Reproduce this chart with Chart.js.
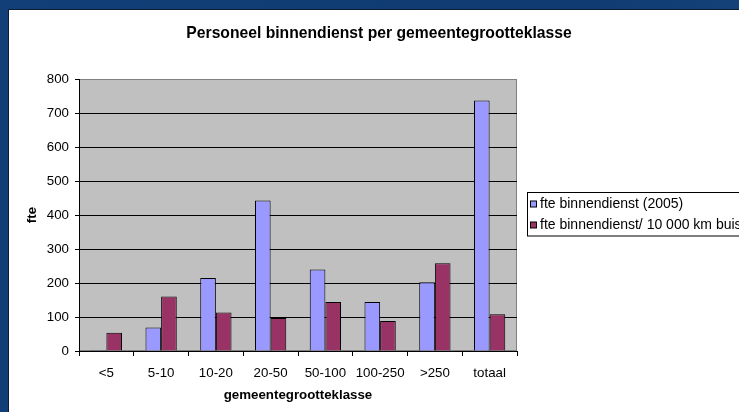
<!DOCTYPE html>
<html>
<head>
<meta charset="utf-8">
<script src="https://cdn.jsdelivr.net/npm/chart.js@4/dist/chart.umd.min.js"></script>
<style>
  html, body { margin: 0; padding: 0; background: #0f3a6e; overflow: hidden; }
  canvas { display: block; }
</style>
</head>
<body>
<canvas id="c" width="739" height="412"></canvas>
<script>
// ---- data ----
const categories = ['<5', '5-10', '10-20', '20-50', '50-100', '100-250', '>250', 'totaal'];
const fteBinnendienst2005 = [3, 69, 215, 443, 240, 144, 202, 737];
const ftePer10000kmBuis = [54, 160, 113, 97, 144, 88, 258, 108];
const seriesLabels = ['fte binnendienst (2005)', 'fte binnendienst/ 10 000 km buisleiding'];
const chartTitle = 'Personeel binnendienst per gemeentegrootteklasse';
const xTitle = 'gemeentegrootteklasse';
const yTitle = 'fte';
const yMin = 0, yMax = 800, yStep = 100;

const FONT = "'Liberation Sans', Arial, sans-serif";
Chart.defaults.font.family = FONT;
Chart.defaults.color = '#000';

const framePlugin = {
  id: 'frame',
  beforeDraw(chart) {
    const ctx = chart.ctx, W = chart.width, H = chart.height;
    ctx.save();
    const g = ctx.createLinearGradient(0, 0, W, H);
    g.addColorStop(0, '#123f77');
    g.addColorStop(0.6, '#0f3b72');
    g.addColorStop(1, '#1a4a82');
    ctx.fillStyle = g;
    ctx.fillRect(0, 0, W, H);
    ctx.fillStyle = '#0b1c33';
    ctx.fillRect(8, 9, W - 8, H - 9);
    ctx.fillStyle = '#ffffff';
    ctx.fillRect(9, 10, W - 9, H - 10);
    const a = chart.chartArea;
    ctx.fillStyle = '#c0c0c0';
    ctx.fillRect(a.left, a.top, a.right - a.left, a.bottom - a.top);
    ctx.strokeStyle = '#808080';
    ctx.lineWidth = 1;
    ctx.strokeRect(a.left + 0.5, a.top + 0.5, a.right - a.left - 1, a.bottom - a.top - 1);
    // title
    ctx.fillStyle = '#000';
    ctx.font = 'bold 15.7px ' + FONT;
    ctx.textAlign = 'center';
    ctx.textBaseline = 'middle';
    ctx.fillText(chartTitle, 379, 33.5);
    ctx.restore();
  },
  afterDraw(chart) {
    const ctx = chart.ctx;
    ctx.save();
    ctx.fillStyle = '#fff';
    ctx.strokeStyle = '#000';
    ctx.lineWidth = 1;
    ctx.fillRect(527.5, 192.5, 300, 43.5);
    ctx.strokeRect(527.5, 192.5, 300, 43.5);
    ctx.font = '14px ' + FONT;
    ctx.textAlign = 'left';
    ctx.textBaseline = 'middle';
    const rows = [204, 225];
    chart.data.datasets.forEach((ds, i) => {
      const cy = rows[i];
      ctx.fillStyle = ds.backgroundColor;
      ctx.fillRect(530.5, cy - 3, 6, 6);
      ctx.strokeStyle = '#000';
      ctx.strokeRect(530.5, cy - 3, 6, 6);
      ctx.fillStyle = '#000';
      ctx.fillText(ds.label, 540, cy + 0.5);
    });
    ctx.restore();
  }
};

new Chart(document.getElementById('c'), {
  type: 'bar',
  data: {
    labels: categories,
    datasets: [
      { label: seriesLabels[0], data: fteBinnendienst2005, backgroundColor: '#9999ff', borderColor: '#000', borderWidth: 1 },
      { label: seriesLabels[1], data: ftePer10000kmBuis, backgroundColor: '#993366', borderColor: '#000', borderWidth: 1 }
    ]
  },
  options: {
    responsive: false,
    devicePixelRatio: 1,
    animation: false,
    layout: { padding: { top: 79, right: 222, bottom: 0, left: 0 } },
    datasets: { bar: { barPercentage: 1, categoryPercentage: 2 / 3.5 } },
    plugins: { legend: { display: false }, title: { display: false }, tooltip: { enabled: false } },
    scales: {
      x: {
        grid: { drawOnChartArea: false, drawTicks: true, tickLength: 5, offset: true, color: '#000', tickColor: '#000' },
        border: { color: '#000', width: 1 },
        ticks: { font: { size: 13.3 }, color: '#000', padding: 9, maxRotation: 0, autoSkip: false },
        title: { display: true, text: xTitle, font: { size: 13.3, weight: 'bold' }, color: '#000', padding: { top: 0, bottom: 8.5 } },
        afterFit: s => { s.height = 61; }
      },
      y: {
        min: yMin, max: yMax,
        ticks: { stepSize: yStep, padding: 6, font: { size: 13.3 }, color: '#000' },
        grid: { color: c => (c.tick && c.tick.value === yMax) ? '#808080' : '#000', tickColor: '#000', tickLength: 4, drawTicks: true },
        border: { color: '#000', width: 1 },
        title: { display: true, text: yTitle, font: { size: 13.3, weight: 'bold' }, color: '#000', padding: { top: 24, bottom: 0 } },
        afterFit: s => { s.width = 79; }
      }
    }
  },
  plugins: [framePlugin]
});
</script>
</body>
</html>
